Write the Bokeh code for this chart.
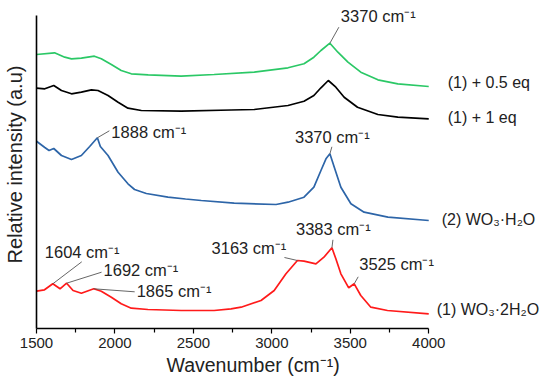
import numpy as np
from bokeh.plotting import figure
from bokeh.models import Range1d, FixedTicker, Label, Title
from bokeh.embed import file_html
from bokeh.resources import INLINE

# ---------------- data ----------------
green_x = [1500, 1615, 1680, 1723, 1786, 1869, 1913, 1977, 2040, 2104, 2212, 2422, 2632, 2887,
           3103, 3205, 3268, 3313, 3370, 3421, 3485, 3567, 3676, 3803, 4000]
green_y = [274.0, 275.7, 271.3, 269.7, 270.3, 272.3, 269.7, 264.0, 258.0, 254.7, 253.7, 252.3, 254.0, 256.3,
           260.7, 264.7, 271.3, 278.0, 285.3, 276.3, 266.3, 256.3, 248.7, 244.7, 242.0]

black_x = [1500, 1553, 1610, 1659, 1723, 1786, 1850, 1892, 1956, 2020, 2083, 2168, 2422, 2740, 2887,
           3103, 3205, 3268, 3313, 3360, 3408, 3461, 3546, 3676, 3803, 4000]
black_y = [240.3, 239.7, 243.0, 238.0, 234.7, 236.3, 238.7, 238.0, 233.0, 226.3, 220.3, 218.0, 217.3, 218.5, 219.0,
           223.0, 227.3, 233.0, 240.7, 248.0, 241.3, 231.3, 221.3, 214.0, 211.3, 209.7]

blue_x = [1500, 1553, 1580, 1610, 1659, 1723, 1786, 1839, 1888, 1907, 1956, 2020, 2083, 2125, 2200, 2338, 2450,
          2550, 2760, 3027, 3103, 3205, 3268, 3313, 3345, 3370, 3398, 3440, 3504, 3588, 3740, 4000]
blue_y = [187.3, 181.0, 178.0, 180.0, 173.0, 169.0, 173.0, 182.0, 190.7, 182.0, 173.0, 156.3, 144.7, 139.0, 135.0,
          131.3, 129.5, 128.0, 125.3, 124.0, 126.3, 131.3, 141.3, 158.0, 169.7, 174.7, 161.3, 141.3, 124.7, 116.3,
          111.3, 108.0]

red_x = [1500, 1551, 1604, 1650, 1692, 1733, 1786, 1865, 1913, 1977, 2040, 2104, 2210, 2422, 2632, 2740,
         2804, 2931, 3015, 3090, 3163, 3205, 3281, 3332, 3383, 3408, 3440, 3490, 3525, 3567, 3631, 3737, 4000]
red_y = [37.3, 38.7, 44.7, 39.7, 45.3, 38.0, 35.3, 39.7, 37.3, 31.3, 24.7, 20.3, 19.0, 18.0, 18.0, 19.7,
         21.3, 28.0, 38.0, 54.7, 68.0, 67.3, 64.7, 71.3, 80.7, 69.7, 54.7, 40.7, 44.7, 33.0, 21.3, 18.0, 14.7]

series_names = ["(1) + 0.5 eq", "(1) + 1 eq", "(2) WO\u2083\u00b7H\u2082O", "(1) WO\u2083\u00b72H\u2082O"]

peak_series = ["green", "blue", "blue", "red", "red", "red", "red", "red", "red"]
peak_wn = [3370, 3370, 1888, 1604, 1692, 1865, 3163, 3383, 3525]

x_ticks = [1500, 2000, 2500, 3000, 3500, 4000]
x_minor = [1750, 2250, 2750, 3250, 3750]

# ---------------- styling / layout ----------------
FONT = "Liberation Sans"
TXT = "#222222"
colors = {"green": "#2BC866", "black": "#000000", "blue": "#2D65A8", "red": "#FF1A1A"}
W, H = 548, 384
AX_LEFT, AX_RIGHT, AX_TOP, AX_BOTTOM = 35, 428, 15, 328   # pixel extent of the axes box
X0, X1, Y0, Y1 = 1500, 4000, 0, 313
xs = (X1 - X0) / (AX_RIGHT - AX_LEFT)   # data units per pixel
ys = (Y1 - Y0) / (AX_BOTTOM - AX_TOP)

# frame extended to the right and top edge so that the side labels are not clipped
p = figure(width=W, height=H, output_backend="svg", toolbar_location=None,
           x_range=Range1d(X0, X1 + (W - AX_RIGHT) * xs),
           y_range=Range1d(Y0, Y1 + AX_TOP * ys),
           min_border_left=AX_LEFT, min_border_right=0, min_border_top=0,
           min_border_bottom=H - AX_BOTTOM)
p.outline_line_color = None
p.xgrid.visible = False
p.ygrid.visible = False
p.background_fill_color = "white"
p.border_fill_color = "white"

data = {"green": (green_x, green_y), "black": (black_x, black_y),
        "blue": (blue_x, blue_y), "red": (red_x, red_y)}
for key in ["green", "black", "blue", "red"]:
    xx, yy = data[key]
    p.line(xx, yy, line_color=colors[key], line_width=1.7)

# axes
xa = p.xaxis[0]
xa.bounds = (X0, X1)
xa.ticker = FixedTicker(ticks=x_ticks, minor_ticks=x_minor)
xa.major_label_text_font = FONT
xa.major_label_text_font_size = "15px"
xa.major_label_text_color = TXT
xa.major_label_standoff = 4
xa.major_tick_in = 0
xa.major_tick_out = 5
xa.minor_tick_in = 0
xa.minor_tick_out = 4
xa.axis_line_width = 1.6
xa.major_tick_line_width = 1.2
xa.minor_tick_line_width = 1.2

p.add_layout(Title(text="Wavenumber (cm\u207b\u00b9)", align="left", offset=130, standoff=3,
                   text_font=FONT, text_font_size="19.5px", text_font_style="normal",
                   text_color=TXT), "below")

ya = p.yaxis[0]
ya.bounds = (Y0, Y1)
ya.ticker = FixedTicker(ticks=[])
ya.axis_label = "Relative intensity (a.u)"
ya.axis_label_text_font = FONT
ya.axis_label_text_font_style = "normal"
ya.axis_label_text_font_size = "20px"
ya.axis_label_text_color = TXT
ya.axis_label_standoff = 11
ya.major_tick_in = 0
ya.major_tick_out = 0
ya.minor_tick_in = 0
ya.minor_tick_out = 0
ya.axis_line_width = 1.6

# peak annotations: text offset (dx, dy) and leader end offset, in pixels (dy down)
text_off = [(11, -27), (-35, -17), (14, -6), (-8, -32), (37, -13), (43, 2), (-86, -13), (-36, -19), (5, -20)]
lead_off = [(9, -16), (2, -7), (12, -7), (29, -22), (35, -11), (41, 3), (-13, -3), (1, -8), (4, -7)]

ann_x0, ann_y0, ann_x1, ann_y1 = [], [], [], []
for s, wn, (tdx, tdy), (ldx, ldy) in zip(peak_series, peak_wn, text_off, lead_off):
    xx, yy = data[s]
    yv = float(np.interp(wn, xx, yy))
    ann_x0.append(wn)
    ann_y0.append(yv)
    ann_x1.append(wn + ldx * xs)
    ann_y1.append(yv - ldy * ys)
    p.add_layout(Label(x=wn + tdx * xs, y=yv - tdy * ys, text=f"{wn} cm\u207b\u00b9",
                       text_font=FONT, text_font_size="16.5px", text_color=TXT,
                       text_align="left", text_baseline="middle"))
p.segment(ann_x0, ann_y0, ann_x1, ann_y1, line_color="#555555", line_width=0.9)

# series labels at the right
right_off = [(19, -4), (19, -1), (13, -1), (8, -4)]
for key, name, (dx, dy) in zip(["green", "black", "blue", "red"], series_names, right_off):
    xx, yy = data[key]
    p.add_layout(Label(x=X1 + dx * xs, y=yy[-1] - dy * ys, text=name,
                       text_font=FONT, text_font_size="16px", text_color=TXT,
                       text_align="left", text_baseline="middle"))

open("out.html", "w").write(file_html(p, INLINE))
